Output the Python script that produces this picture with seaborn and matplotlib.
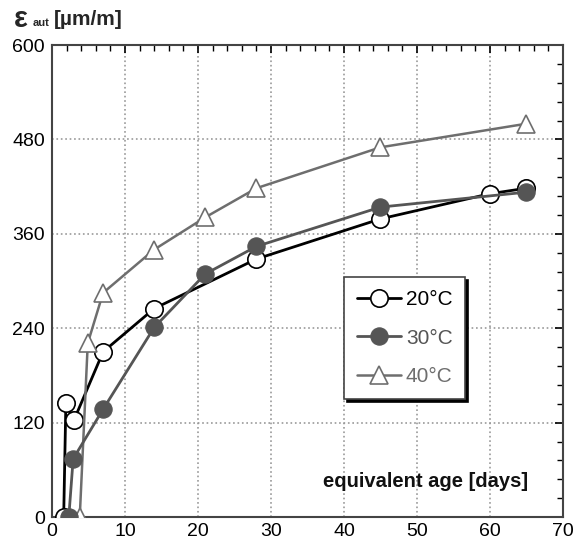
import numpy as np
import pandas as pd
import matplotlib
matplotlib.use("Agg")
import matplotlib.pyplot as plt
import seaborn as sns
from matplotlib.ticker import MultipleLocator

# equivalent age [days] and autogenous strain [um/m] per curing temperature
age_20 = [1.6, 1.9, 3.0, 7.0, 14.0, 28.0, 45.0, 60.0, 65.0]
eps_20 = [0, 145, 123, 210, 265, 328, 379, 411, 418]

age_30 = [2.3, 2.9, 7.0, 14.0, 21.0, 28.0, 45.0, 65.0]
eps_30 = [0, 74, 137, 241, 309, 344, 394, 413]

age_40 = [3.8, 4.9, 7.0, 14.0, 21.0, 28.0, 45.0, 65.0]
eps_40 = [0, 221, 285, 340, 381, 418, 470, 500]

labels = ["20°C", "30°C", "40°C"]

sns.set_style("white")
plt.rcParams['font.family'] = ['Liberation Sans', 'DejaVu Sans']

fig = plt.figure(figsize=(5.81, 5.44), dpi=100)
ax = fig.add_axes([0.0895, 0.0496, 0.8795, 0.8676])

df20 = pd.DataFrame({'age': age_20, 'eps': eps_20})
df30 = pd.DataFrame({'age': age_30, 'eps': eps_30})
df40 = pd.DataFrame({'age': age_40, 'eps': eps_40})

sns.lineplot(data=df20, x='age', y='eps', ax=ax, color='black', lw=2.0,
             marker='o', markersize=12.5, markerfacecolor='white',
             markeredgecolor='black', markeredgewidth=1.2, label=labels[0],
             sort=False, zorder=3)
sns.lineplot(data=df30, x='age', y='eps', ax=ax, color='#555555', lw=2.0,
             marker='o', markersize=12.5, markerfacecolor='#555555',
             markeredgecolor='#555555', label=labels[1], sort=False, zorder=4)
sns.lineplot(data=df40, x='age', y='eps', ax=ax, color='#6e6e6e', lw=1.8,
             marker='^', markersize=12.5, markerfacecolor='white',
             markeredgecolor='#6e6e6e', markeredgewidth=1.2, label=labels[2],
             sort=False, zorder=3)

ax.set_xlim(0, 70)
ax.set_ylim(0, 600)
ax.xaxis.set_major_locator(MultipleLocator(10))
ax.xaxis.set_minor_locator(MultipleLocator(2))
ax.yaxis.set_major_locator(MultipleLocator(120))
ax.yaxis.set_minor_locator(MultipleLocator(24))
ax.tick_params(which='both', direction='in', top=True, right=True,
               labelsize=14, colors='black')
ax.tick_params(which='major', length=6, width=1.2)
ax.tick_params(which='minor', length=4, width=1.0)
ax.tick_params(axis='x', pad=4)
ax.tick_params(axis='y', pad=5)
ax.grid(True, which='major', linestyle=':', color='#999999', lw=1.2)
for sp in ax.spines.values():
    sp.set_color('#444444')
    sp.set_linewidth(1.5)
ax.set_xlabel('')
ax.set_ylabel('')

# y-axis label at the top-left corner
fig.text(0.024, 0.965, 'ε', fontsize=21, fontweight='bold', va='center', ha='left')
fig.text(0.056, 0.958, 'aut', fontsize=8, fontweight='bold', va='center', ha='left')
fig.text(0.093, 0.965, '[µm/m]', fontsize=15, fontweight='bold', va='center', ha='left')

ax.text(0.932, 0.075, 'equivalent age [days]', transform=ax.transAxes,
        fontsize=14.5, ha='right', va='center', fontweight='bold', color='#111111')

leg = ax.legend(loc='lower left', bbox_to_anchor=(0.552, 0.228), fontsize=15,
                frameon=True, fancybox=False, shadow={'color': 'black', 'alpha': 1},
                edgecolor='#444444', handlelength=2.1, borderpad=0.6,
                labelspacing=0.95, handletextpad=0.25)
leg.get_frame().set_linewidth(1.2)
for txt, c in zip(leg.get_texts(), ['black', '#555555', '#6e6e6e']):
    txt.set_color(c)

fig.savefig('out.png', dpi=100)
